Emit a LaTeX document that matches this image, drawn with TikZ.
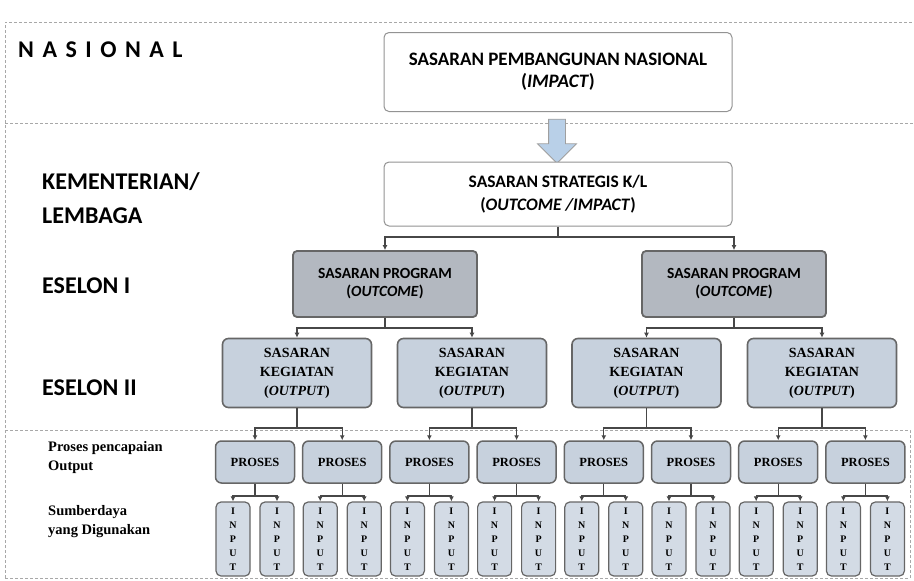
\documentclass[tikz,border=0pt]{standalone}
\usepackage{fontspec}
\setmainfont{Liberation Serif}
\newfontfamily\calib{Carlito}
\usetikzlibrary{arrows.meta,positioning,shapes.arrows,calc}

\definecolor{progfill}{HTML}{B3B8C0}
\definecolor{kegfill}{HTML}{C7D1DD}
\definecolor{inpfill}{HTML}{D3DBE5}
\definecolor{boxline}{HTML}{666666}
\definecolor{dashgray}{HTML}{A8A8A8}
\definecolor{arrowfill}{HTML}{B9D0E8}
\newcommand{\gapnas}{\hskip 8.5pt}

\begin{document}
\begin{tikzpicture}[x=1pt,y=-1pt,
	all node/.style={outer sep=0pt},
	topbox/.style={draw=gray!85, line width=1pt, rounded corners=5pt, fill=white,
		minimum width=348pt, align=center},
	progbox/.style={draw=boxline, line width=1.8pt, rounded corners=4pt, fill=progfill,
		minimum width=184pt, minimum height=66pt, align=center,
		font=\calib\bfseries\fontsize{15.5}{18}\selectfont},
	kegbox/.style={draw=boxline, line width=1.6pt, rounded corners=6pt, fill=kegfill,
		minimum width=149pt, minimum height=69pt, align=center,
		font=\bfseries\fontsize{14}{19}\selectfont},
	prosbox/.style={draw=boxline, line width=1.5pt, rounded corners=6pt, fill=kegfill,
		minimum width=79pt, minimum height=42pt, align=center,
		font=\bfseries\fontsize{12.5}{14}\selectfont},
	inbox/.style={draw=boxline, line width=1.2pt, rounded corners=5pt, fill=inpfill,
		minimum width=34pt, minimum height=74pt, inner sep=0pt, align=center,
		font=\bfseries\fontsize{10}{14}\selectfont},
	levellabel/.style={anchor=west, align=left, inner sep=0pt,
		font=\calib\bfseries\fontsize{24}{34}\selectfont},
	sublabel/.style={anchor=west, align=left, inner sep=0pt,
		font=\bfseries\fontsize{14.5}{19}\selectfont},
	bigarrow/.style={single arrow, draw=gray!75, fill=arrowfill, line width=0.8pt,
		inner sep=8pt, minimum height=44pt, single arrow head extend=11pt,
		shape border rotate=270},
	link/.style={draw=black!72, line width=1.3pt},
	arr/.style={link, -{Latex[length=5pt,width=5pt]}},
	region/.style={draw=dashgray, line width=1pt, dash pattern=on 3pt off 2pt}
	]
		\useasboundingbox (0,0) rectangle (914,581);

		% dashed regions
		\draw[region] (5,578) -- (5,22) -- (914,22);
		\draw[region] (5,123) -- (914,123);
		\draw[region] (5,430) -- (910,430) -- (910,578) -- (5,578);

		% level labels
		\node[anchor=west, inner sep=0pt, font=\calib\bfseries\fontsize{24}{28}\selectfont]
			(lblnas) at (18,50) {N\gapnas A\gapnas S\gapnas I\gapnas O\gapnas N\gapnas A\gapnas L};
		\node[levellabel]	(lblkl)		at (42,198)	{KEMENTERIAN/\\LEMBAGA};
		\node[levellabel]	(lbles1)	at (42,286)	{ESELON I};
		\node[levellabel]	(lbles2)	at (42,388)	{ESELON II};
		\node[sublabel]		(lblpros)	at (48,458)	{Proses pencapaian\\Output};
		\node[sublabel]		(lblsdm)	at (48,522)	{Sumberdaya\\yang Digunakan};

		% upper boxes
		\node[topbox, minimum height=79pt, font=\calib\bfseries\fontsize{19}{22}\selectfont]
			(nat) at (558,72) {SASARAN PEMBANGUNAN NASIONAL\\(\textit{IMPACT})};
		\node[bigarrow]		(arw)		at (557,137)	{};
		\node[topbox, minimum height=64pt, font=\calib\bfseries\fontsize{17.5}{23}\selectfont]
			(strat) at (558,194) {SASARAN STRATEGIS K/L\\(\textit{OUTCOME /IMPACT})};

		\node[progbox]		(prog1)		at (385,284)	{SASARAN PROGRAM\\(\textit{OUTCOME})};
		\node[progbox]		(prog2)		at (734,284)	{SASARAN PROGRAM\\(\textit{OUTCOME})};

		\node[kegbox]		(k1)		at (297,373)	{SASARAN\\KEGIATAN\\(\textit{OUTPUT})};
		\node[kegbox]		(k2)		at (472,373)	{SASARAN\\KEGIATAN\\(\textit{OUTPUT})};
		\node[kegbox]		(k3)		at (646.5,373)	{SASARAN\\KEGIATAN\\(\textit{OUTPUT})};
		\node[kegbox]		(k4)		at (822,373)	{SASARAN\\KEGIATAN\\(\textit{OUTPUT})};

		% bus levels
		\coordinate (busS) at (0,237);
		\coordinate (busP) at (0,328);
		\coordinate (busK) at (0,428);
		\coordinate (busI) at (0,496);

		\draw[link] (strat) -- (strat |- busS);
		\draw[arr] (strat |- busS) -| (prog1);
		\draw[arr] (strat |- busS) -| (prog2);

		\draw[link] (prog1) -- (prog1 |- busP);
		\draw[arr] (prog1 |- busP) -| (k1);
		\draw[arr] (prog1 |- busP) -| (k2);
		\draw[link] (prog2) -- (prog2 |- busP);
		\draw[arr] (prog2 |- busP) -| (k3);
		\draw[arr] (prog2 |- busP) -| (k4);

		\foreach \k in {k1,k2,k3,k4}
			\draw[link] (\k) -- (\k |- busK);

		% proses and input
		\foreach \i/\k in {1/k1,2/k1,3/k2,4/k2,5/k3,6/k3,7/k4,8/k4} {
			\node[prosbox]	(p\i)	at ({255+87.2*(\i-1)},462)	{PROSES};
			\node[inbox]	(ina\i)	at ({233+87.2*(\i-1)},539)	{I\\N\\P\\U\\T};
			\node[inbox]	(inb\i)	at ({277+87.2*(\i-1)},539)	{I\\N\\P\\U\\T};
			\draw[arr] (\k |- busK) -| (p\i);
			\draw[link] (p\i) -- (p\i |- busI);
			\draw[arr] (p\i |- busI) -| (ina\i);
			\draw[arr] (p\i |- busI) -| (inb\i);
		}
	\end{tikzpicture}
\end{document}
